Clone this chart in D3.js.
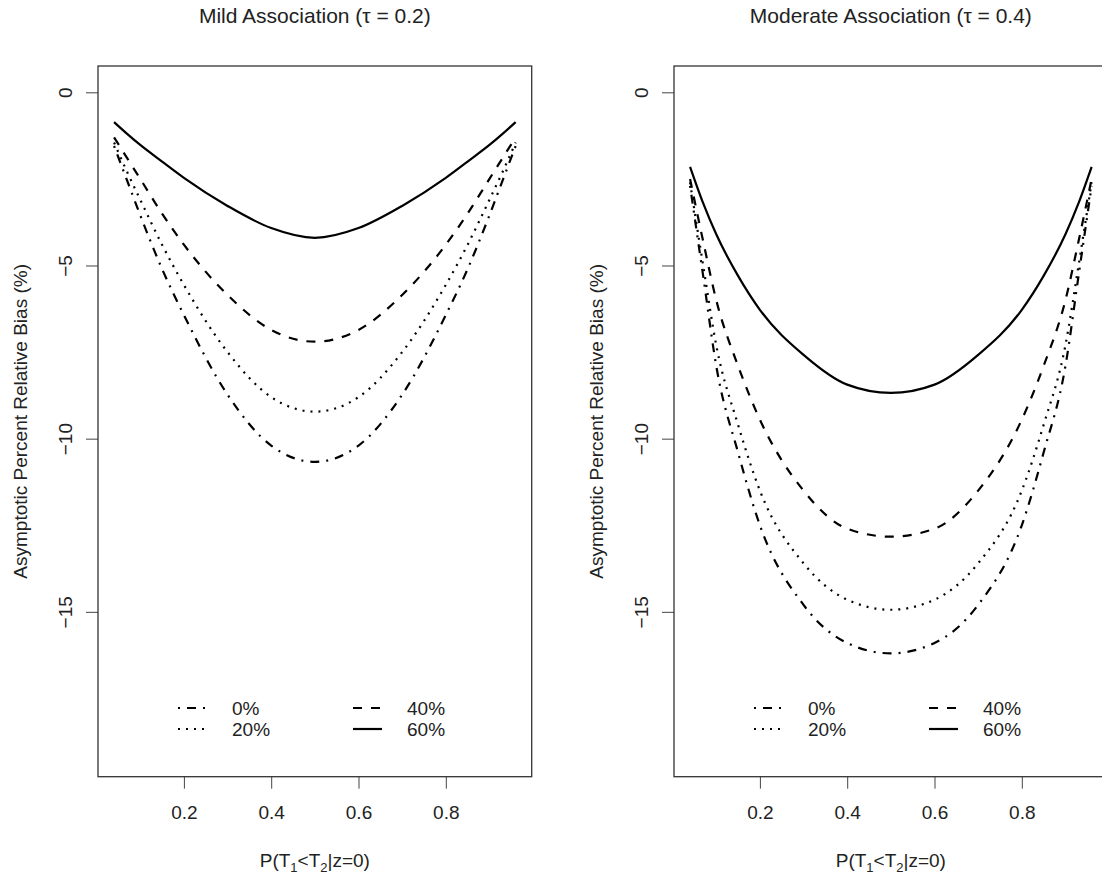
<!DOCTYPE html>
<html>
<head>
<meta charset="utf-8">
<script src="https://cdn.jsdelivr.net/npm/d3@7"></script>
<style>
  body { margin: 0; background: #fff; }
  svg { display: block; font-family: "Liberation Sans", Arial, sans-serif; }
  .domain { display: none; }
  .tick line { stroke: #444; }
  .tick text { fill: #222; font-size: 19px; }
</style>
</head>
<body>
<svg width="1102" height="874"></svg>
<script>
const svg = d3.select('svg');

// x grid
const pGrid = [0.04, 0.07, 0.1, 0.15, 0.2, 0.3, 0.4, 0.5, 0.6, 0.7, 0.8, 0.85, 0.9, 0.93, 0.96];

// Mild association (tau = 0.2)
const mild0  = [-1.55, -2.55, -3.55, -5.1, -6.43, -8.73, -10.2, -10.67, -10.2, -8.73, -6.43, -5.1, -3.55, -2.55, -1.55];
const mild20 = [-1.45, -2.3, -3.1, -4.4, -5.56, -7.5, -8.8, -9.22, -8.8, -7.5, -5.56, -4.4, -3.1, -2.3, -1.45];
const mild40 = [-1.3, -1.9, -2.5, -3.5, -4.4, -5.85, -6.86, -7.2, -6.86, -5.85, -4.4, -3.5, -2.5, -1.9, -1.3];
const mild60 = [-0.86, -1.2, -1.52, -2.0, -2.47, -3.28, -3.92, -4.2, -3.92, -3.28, -2.47, -2.0, -1.52, -1.2, -0.86];

// Moderate association (tau = 0.4)
const mod0  = [-2.7, -5.3, -7.9, -10.4, -12.5, -14.8, -15.9, -16.2, -15.9, -14.8, -12.5, -10.4, -7.9, -5.3, -2.7];
const mod20 = [-2.6, -5.0, -7.3, -9.6, -11.5, -13.6, -14.65, -14.94, -14.65, -13.6, -11.5, -9.6, -7.3, -5.0, -2.6];
const mod40 = [-2.5, -4.3, -6.0, -7.9, -9.45, -11.5, -12.6, -12.83, -12.6, -11.5, -9.45, -7.9, -6.0, -4.3, -2.5];
const mod60 = [-2.15, -3.2, -4.1, -5.3, -6.28, -7.58, -8.44, -8.68, -8.44, -7.58, -6.28, -5.3, -4.1, -3.2, -2.15];

const seriesNames = ['0%', '20%', '40%', '60%'];
const xTicks = [0.2, 0.4, 0.6, 0.8];
const yTicks = [0, -5, -10, -15];
const yLimits = [-19, 0];

// R style line types
const dashes = {
  '0%': '2,7,9,7',
  '20%': '2,6',
  '40%': '9,9',
  '60%': null
};

const panels = [
  {title: 'Mild Association', tau: '0.2', series: [mild0, mild20, mild40, mild60], offset: 0},
  {title: 'Moderate Association', tau: '0.4', series: [mod0, mod20, mod40, mod60], offset: 576}
];

const plot = {left: 98, right: 531.7, top: 66, bottom: 776.7};

// R pads the data range by 4% on each side
let pad = (lo, hi) => [lo - 0.04 * (hi - lo), hi + 0.04 * (hi - lo)];

let drawPanel = (p) => {
  const g = svg.append('g').attr('transform', 'translate(' + p.offset + ',0)');

  const xScale = d3.scaleLinear()
      .domain(pad(d3.min(pGrid), d3.max(pGrid)))
      .range([plot.left, plot.right]);
  const yScale = d3.scaleLinear()
      .domain(pad(yLimits[0], yLimits[1]))
      .range([plot.bottom, plot.top]);

  const line = d3.line()
      .x((d, i) => xScale(pGrid[i]))
      .y(d => yScale(d))
      .curve(d3.curveMonotoneX);

  p.series.forEach((vals, i) => {
    g.append('path')
      .datum(vals)
      .attr('d', line)
      .attr('fill', 'none')
      .attr('stroke', '#000')
      .attr('stroke-width', 2.2)
      .attr('stroke-dasharray', dashes[seriesNames[i]]);
  });

  g.append('g')
    .attr('transform', 'translate(0,' + plot.bottom + ')')
    .call(d3.axisBottom(xScale).tickValues(xTicks).tickSize(12).tickPadding(16.5).tickFormat(d3.format('.1f')));

  const yAxis = g.append('g')
    .attr('transform', 'translate(' + plot.left + ',0)')
    .call(d3.axisLeft(yScale).tickValues(yTicks).tickSize(12).tickFormat(d3.format('d')));
  yAxis.selectAll('.tick text')
    .attr('x', 0).attr('dy', 0)
    .attr('text-anchor', 'middle')
    .attr('transform', 'translate(-26,0) rotate(-90)');

  g.append('rect')
    .attr('x', plot.left).attr('y', plot.top)
    .attr('width', plot.right - plot.left).attr('height', plot.bottom - plot.top)
    .attr('fill', 'none').attr('stroke', '#333').attr('stroke-width', 1.3);

  const cx = (plot.left + plot.right) / 2;
  g.append('text')
    .attr('x', cx).attr('y', 23)
    .attr('text-anchor', 'middle')
    .style('font-size', '21px').attr('fill', '#222')
    .text(p.title + ' (\u03c4 = ' + p.tau + ')');

  const xl = g.append('text')
    .attr('x', cx).attr('y', 867)
    .attr('text-anchor', 'middle')
    .style('font-size', '19px').attr('fill', '#222');
  xl.append('tspan').text('P(T');
  xl.append('tspan').attr('dy', 5).style('font-size', '13px').text('1');
  xl.append('tspan').attr('dy', -5).text('<T');
  xl.append('tspan').attr('dy', 5).style('font-size', '13px').text('2');
  xl.append('tspan').attr('dy', -5).text('|z=0)');

  g.append('text')
    .attr('transform', 'translate(27,' + ((plot.top + plot.bottom) / 2) + ') rotate(-90)')
    .attr('text-anchor', 'middle')
    .style('font-size', '19px').attr('fill', '#222')
    .text('Asymptotic Percent Relative Bias (%)');

  // legend, two columns
  const legendCols = [178, 353];
  const legendRows = [708, 729];
  seriesNames.forEach((name, i) => {
    const col = Math.floor(i / 2), row = i % 2;
    const lx = legendCols[col], ly = legendRows[row];
    g.append('line')
      .attr('x1', lx).attr('x2', lx + 29)
      .attr('y1', ly).attr('y2', ly)
      .attr('stroke', '#000').attr('stroke-width', 2.2)
      .attr('stroke-dasharray', dashes[name]);
    g.append('text')
      .attr('x', lx + 54).attr('y', ly + 7)
      .style('font-size', '19px').attr('fill', '#222')
      .text(name);
  });
};

panels.forEach(drawPanel);
</script>
</body>
</html>
